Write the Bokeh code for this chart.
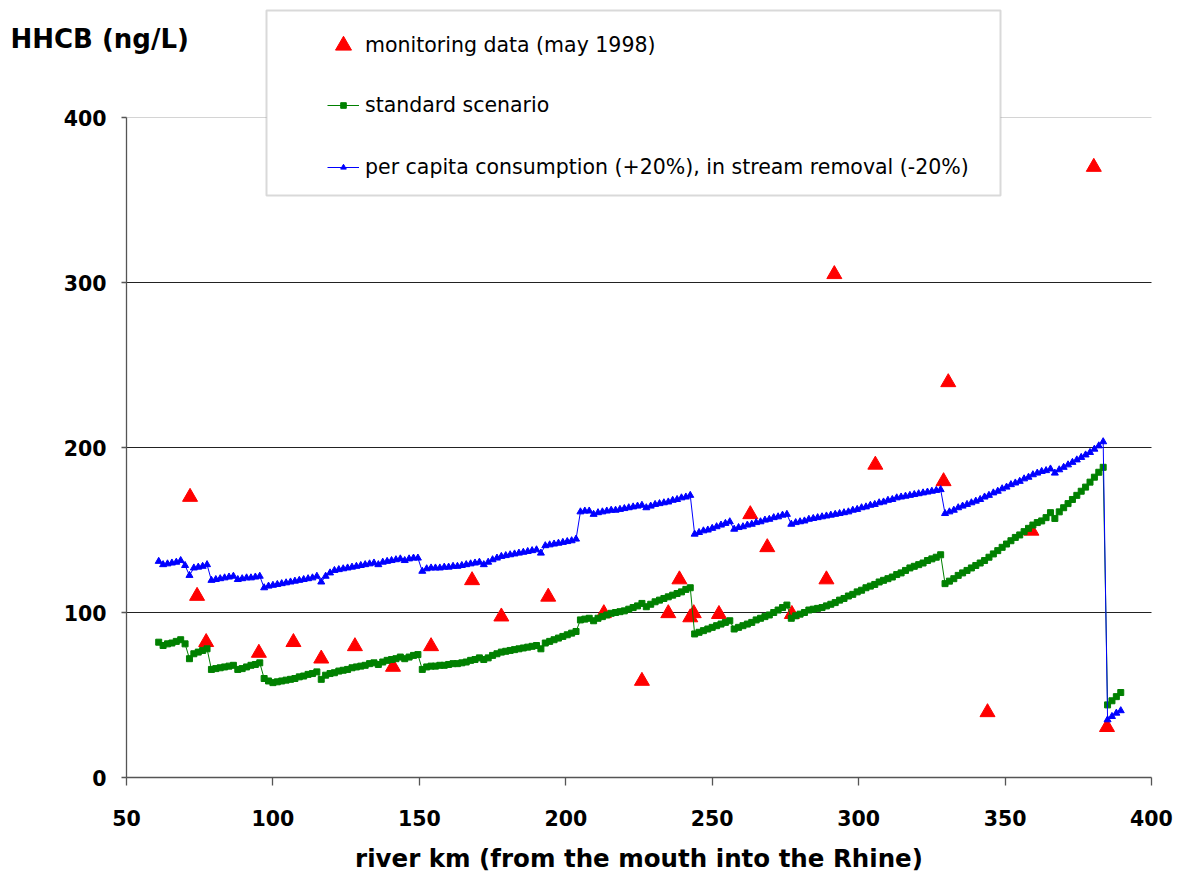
from bokeh.plotting import figure
from bokeh.models import (Range1d, FixedTicker, BoxAnnotation, Label,
                          Legend, LegendItem)
from bokeh.embed import file_html
from bokeh.resources import INLINE

# ---------------- data ----------------
x_ticks = [50, 100, 150, 200, 250, 300, 350, 400]
y_ticks = [0, 100, 200, 300, 400]
grid_levels = [100, 200, 300]
top_level = [400]

river_km = [
    61, 62.5, 64, 65.5, 67, 68.5, 70, 71.5, 73, 74.5,
    76, 77.5, 79, 80.5, 82, 83.5, 85, 86.5, 88, 89.5,
    91, 92.5, 94, 95.5, 97, 98.5, 100, 101.5, 103, 104.5,
    106, 107.5, 109, 110.5, 112, 113.5, 115, 116.5, 118, 119.5,
    121, 122.5, 124, 125.5, 127, 128.5, 130, 131.5, 133, 134.5,
    136, 137.5, 139, 140.5, 142, 143.5, 145, 146.5, 148, 149.5,
    151, 152.5, 154, 155.5, 157, 158.5, 160, 161.5, 163, 164.5,
    166, 167.5, 169, 170.5, 172, 173.5, 175, 176.5, 178, 179.5,
    181, 182.5, 184, 185.5, 187, 188.5, 190, 191.5, 193, 194.5,
    196, 197.5, 199, 200.5, 202, 203.5, 205, 206.5, 208, 209.5,
    211, 212.5, 214, 215.5, 217, 218.5, 220, 221.5, 223, 224.5,
    226, 227.5, 229, 230.5, 232, 233.5, 235, 236.5, 238, 239.5,
    241, 242.5, 244, 245.5, 247, 248.5, 250, 251.5, 253, 254.5,
    256, 257.5, 259, 260.5, 262, 263.5, 265, 266.5, 268, 269.5,
    271, 272.5, 274, 275.5, 277, 278.5, 280, 281.5, 283, 284.5,
    286, 287.5, 289, 290.5, 292, 293.5, 295, 296.5, 298, 299.5,
    301, 302.5, 304, 305.5, 307, 308.5, 310, 311.5, 313, 314.5,
    316, 317.5, 319, 320.5, 322, 323.5, 325, 326.5, 328, 329.5,
    331, 332.5, 334, 335.5, 337, 338.5, 340, 341.5, 343, 344.5,
    346, 347.5, 349, 350.5, 352, 353.5, 355, 356.5, 358, 359.5,
    361, 362.5, 364, 365.5, 367, 368.5, 370, 371.5, 373, 374.5,
    376, 377.5, 379, 380.5, 382, 383.5, 385, 386.5, 388, 389.5,
]

standard_scenario = [
    82, 80, 81, 81.5, 82.5, 83.5, 81, 72, 75, 76,
    77, 78, 65.5, 66, 66.5, 67, 67.5, 68, 65.5, 66,
    67, 68, 68.5, 69.5, 60, 58.5, 57.5, 58, 58.5, 59,
    59.5, 60, 61, 61.5, 62.5, 63, 64, 59.5, 62, 63,
    63.5, 64.5, 65, 65.5, 66.5, 67, 67.5, 68, 69, 69.5,
    68.5, 70, 71, 71.5, 72, 73, 72, 73, 74, 74.5,
    65.5, 67, 67.5, 67.5, 68, 68, 68.5, 69, 69, 69.5,
    70, 71, 71.5, 72.5, 71.5, 72.5, 74, 75, 76, 76.5,
    77, 77.5, 78, 78.5, 79, 79.5, 80, 78, 81.5, 82.5,
    83.5, 84.5, 85.5, 86.5, 87.5, 88.5, 95.5, 96, 96.5, 95,
    96.5, 97.5, 98.5, 99.5, 100, 100.5, 101, 102, 103, 104,
    105.5, 103.5, 105, 106.5, 107.5, 108.5, 109.5, 110.5, 111.5, 112.5,
    114, 115, 87, 88, 89, 90, 91, 92, 93, 94,
    95, 90, 91, 92, 93, 94, 95.5, 96.5, 97.5, 98.5,
    100, 101.5, 103, 104.5, 96.5, 98, 99, 100, 101.5, 102,
    102.5, 103, 104, 105, 106, 107.5, 108.5, 110, 111, 112.5,
    113.5, 115, 116, 117, 118.5, 119.5, 120.5, 121.5, 123, 124,
    125.5, 127, 128, 129, 130, 131.5, 132.5, 133.5, 135, 117.5,
    119, 120.5, 122.5, 124, 125.5, 127, 128.5, 130, 131.5, 133.5,
    135.5, 137.5, 139.5, 141.5, 143.5, 145.5, 147, 149, 151, 153,
    154.5, 155.5, 157.5, 160.5, 157, 161, 163.5, 166, 168.5, 171,
    173.5, 176, 179, 182, 185, 188, 44, 46.5, 49, 51.5,
]

per_capita_scenario = [
    131, 129, 129.5, 130, 130.5, 131.5, 128.5, 122.5, 127, 127.5,
    128, 129, 119.5, 120, 120.5, 121, 121.5, 122, 120, 120.5,
    121, 121, 121.5, 122, 115, 116, 116.5, 117, 117.5, 118,
    118.5, 119, 119.5, 120, 120.5, 121, 122, 118.5, 122, 124,
    125.5, 126, 126.5, 127, 127.5, 128, 128.5, 129, 129.5, 130,
    129, 130.5, 131, 131.5, 132, 132.5, 131.5, 132.5, 133, 133,
    125, 126.5, 127, 127, 127, 127.5, 127.5, 128, 128, 128.5,
    129, 129.5, 130, 130.5, 129, 130.5, 132, 133, 134, 134.5,
    135, 135.5, 136, 136.5, 137, 137.5, 138, 136, 140.5, 141,
    141.5, 142, 142.5, 143, 143.5, 144.5, 161, 161.5, 161.5, 159.5,
    160.5, 161, 161.5, 162, 162, 162.5, 163, 163.5, 164, 164.5,
    165, 163.5, 164.5, 165.5, 166, 166.5, 167, 168, 168.5, 169.5,
    170, 171, 147.5, 148.5, 149.5, 150, 151, 152, 153, 154,
    155, 150.5, 151.5, 152, 153, 153.5, 154.5, 155, 156, 156.5,
    157.5, 158, 159, 159.5, 153.5, 154.5, 155, 155.5, 156.5, 157,
    157.5, 158, 158.5, 159, 159.5, 160, 160.5, 161, 162, 162.5,
    163.5, 164, 165, 165.5, 166.5, 167, 168, 168.5, 169.5, 170,
    170.5, 171, 171.5, 172, 172.5, 173, 173.5, 174, 174.5, 160,
    161, 162, 163.5, 164.5, 165.5, 166.5, 167.5, 168.5, 170, 171,
    172.5, 173.5, 175, 176, 177.5, 178.5, 179.5, 181, 182, 183.5,
    184.5, 185.5, 186, 187, 184.5, 186.5, 188, 189.5, 191, 192.5,
    194, 195.5, 197, 199, 201, 203.5, 35, 37, 39, 40.5,
]

monitoring_km = [71.7, 74.1, 77.2, 95.2, 107, 116.5, 128, 141, 154, 168,
                 178, 194, 213, 226, 235, 238.8, 242.5, 243.7, 252.3, 263,
                 268.8, 277.2, 289, 291.7, 305.7, 329, 330.6, 344, 359, 380.3,
                 384.8]
monitoring_val = [170, 110, 82, 75.5, 82, 72, 79.5, 67, 79.5, 119.5,
                  97.5, 109.5, 99.5, 58.5, 99.5, 120, 97, 99.5, 99, 159.5,
                  139.5, 99, 120, 305, 189.5, 179.5, 239.5, 39.5, 149.5, 370,
                  30.5]

labels = ["monitoring data (may 1998)", "standard scenario",
          "per capita consumption (+20%), in stream removal (-20%)"]
y_title = "HHCB (ng/L)"
x_title = "river km (from the mouth into the Rhine)"

# ---------------- layout ----------------
# The frame covers the whole canvas; axes are pinned at x=50 / y=0 so that
# the titles (plain Labels) lie inside the frame and are not clipped.
W, H = 1179, 879
AXIS_LEFT_PX = 126      # pixel column of x = 50
AXIS_BOTTOM_PX = 777    # pixel row of y = 0
X0, X1 = 50, 400
PX_PER_KM = 1025 / (X1 - X0)
PX_PER_UNIT = 1.65


def px2x(px):
    return X0 + (px - AXIS_LEFT_PX) / PX_PER_KM


def px2y(py):
    return (AXIS_BOTTOM_PX - py) / PX_PER_UNIT


RED, GREEN, BLUE = "#ff0000", "#008000", "#0000ff"
FONT = "DejaVu Sans"

p = figure(width=W, height=H,
           x_range=Range1d(px2x(0), px2x(W)), y_range=Range1d(px2y(H), px2y(0)),
           output_backend="svg", toolbar_location=None,
           min_border_left=0, min_border_right=0,
           min_border_top=0, min_border_bottom=0)
p.outline_line_color = None
p.background_fill_color = "white"
p.border_fill_color = "white"

# axes
for ax in (p.xaxis, p.yaxis):
    ax.major_label_text_font = FONT
    ax.major_label_text_font_style = "bold"
    ax.major_label_text_font_size = "20.5px"
    ax.major_label_text_color = "black"
    ax.axis_line_color = "#555555"
    ax.axis_line_width = 1.3
    ax.major_tick_line_color = "#555555"
    ax.major_tick_line_width = 1.3
    ax.major_tick_in = 0
    ax.minor_tick_line_color = None
p.xaxis.ticker = FixedTicker(ticks=x_ticks)
p.yaxis.ticker = FixedTicker(ticks=y_ticks)
p.xaxis.bounds = (X0, X1)
p.yaxis.bounds = (0, 400)
p.xaxis.fixed_location = 0
p.yaxis.fixed_location = X0
p.xaxis.major_tick_out = 8
p.yaxis.major_tick_out = 5
p.yaxis.major_label_standoff = 15
p.xaxis.major_label_standoff = 24

p.xgrid.visible = False
p.ygrid.visible = False

# horizontal grid lines between the axis bounds
p.segment(x0=[X0] * len(top_level), y0=top_level, x1=[X1] * len(top_level),
          y1=top_level, line_color="#d4d4d4", line_width=1)
p.segment(x0=[X0] * len(grid_levels), y0=grid_levels,
          x1=[X1] * len(grid_levels), y1=grid_levels,
          line_color="#222222", line_width=1)

# series
r_mon = p.scatter(monitoring_km, monitoring_val, marker="triangle", size=15,
                  fill_color=RED, line_color=RED)
g_line = p.line(river_km, standard_scenario, line_color=GREEN, line_width=1)
g_mark = p.scatter(river_km, standard_scenario, marker="square", size=6,
                   fill_color=GREEN, line_color=GREEN)
b_line = p.line(river_km, per_capita_scenario, line_color=BLUE, line_width=1)
b_mark = p.scatter(river_km, per_capita_scenario, marker="triangle", size=7,
                   fill_color=BLUE, line_color=BLUE)

# legend box
p.add_layout(BoxAnnotation(left=px2x(266), right=px2x(1000),
                           top=px2y(10), bottom=px2y(195),
                           fill_color="white", fill_alpha=1.0,
                           line_color="#808080", line_width=2))


def add_legend(label, renderers, gw, gh, standoff, left_px, cy):
    ih = max(gh, 30)
    leg = Legend(items=[LegendItem(label=label, renderers=renderers)],
                 location=(left_px, H - (cy + ih / 2)),
                 glyph_width=gw, glyph_height=gh, label_height=30,
                 label_standoff=standoff, padding=0, margin=0,
                 border_line_alpha=0, background_fill_alpha=0,
                 label_text_font=FONT, label_text_font_size="20.5px",
                 label_text_color="black")
    p.add_layout(leg)


add_legend(labels[0], [r_mon], 40, 40, 2, 323, 45)
add_legend(labels[1], [g_line, g_mark], 32, 14, 6, 327, 105)
add_legend(labels[2], [b_line, b_mark], 32, 14, 6, 327, 167)

# titles
p.add_layout(Label(x=px2x(10), y=px2y(38), text=y_title, text_font=FONT,
                   text_font_style="bold", text_font_size="26px",
                   text_align="left", text_baseline="middle", text_color="black"))
p.add_layout(Label(x=(X0 + X1) / 2, y=px2y(858), text=x_title, text_font=FONT,
                   text_font_style="bold", text_font_size="24.5px",
                   text_align="center", text_baseline="middle", text_color="black"))

open("out.html", "w").write(file_html(p, INLINE))
